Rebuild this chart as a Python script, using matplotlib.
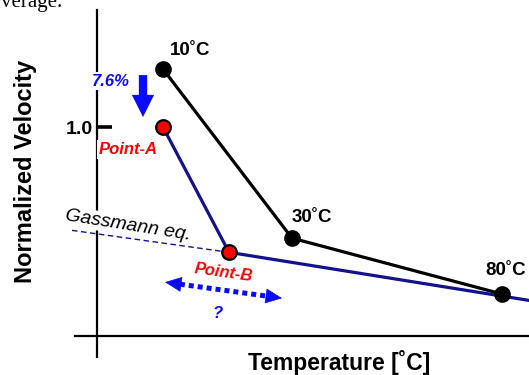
import numpy as np
import matplotlib
matplotlib.use("Agg")
import matplotlib.pyplot as plt

plt.rcParams['font.family'] = ['Liberation Sans', 'DejaVu Sans']

# --------- data (schematic units) ---------
# measured velocities, normalized to Point-A
MEAS_LABELS = ["10˚C", "30˚C", "80˚C"]
MEAS_X = [0.66, 1.95, 4.05]
MEAS_V = [1.082, 0.843, 0.764]

# corrected path: Point-A -> Point-B -> right edge
MODEL_LABELS = ["Point-A", "Point-B"]
MODEL_X = [0.66, 1.32, 4.32]
MODEL_V = [1.0, 0.823, 0.755]

# Gassmann extrapolation from Point-B
GASS_X = [-0.25, 1.32]
GASS_V = [0.854, 0.823]

Y_TICKS = [1.0]
Y_TICK_LABELS = ["1.0"]
DROP_PCT = 7.6

NAVY = "#12128c"
BRIGHT = "#0a0aff"
RED = "#ff0000"

fig = plt.figure(figsize=(5.29, 3.75), dpi=100)
ax = fig.add_axes([60 / 529, 18 / 375, 469 / 529, 347 / 375])
ax.set_xlim(-0.37, 4.32)
ax.set_ylim(0.675, 1.1655)

# axes lines
for s in ["top", "right"]:
    ax.spines[s].set_visible(False)
ax.spines["left"].set_position(("data", 0))
ax.spines["bottom"].set_position(("data", 0.704))
ax.spines["bottom"].set_bounds(-0.22, 4.32)
for s in ["left", "bottom"]:
    ax.spines[s].set_linewidth(1.6)

ax.set_xticks([])
ax.set_yticks(Y_TICKS)
ax.set_yticklabels(Y_TICK_LABELS)
ax.tick_params(axis="y", direction="in", length=11, width=2.6, pad=3, labelsize=14)
for lbl in ax.get_yticklabels():
    lbl.set_fontweight("bold")

# lines
ax.plot(GASS_X, GASS_V, ls=(0, (4, 2.5)), lw=1.0, color=NAVY, zorder=3.5)
ax.plot(MODEL_X, MODEL_V, color=NAVY, lw=2.3, zorder=4)
ax.plot(MEAS_X, MEAS_V, color="black", lw=2.3, marker="o", ms=11,
        mfc="black", mec="black", zorder=5)
ax.plot(MODEL_X[:2], MODEL_V[:2], ls="none", marker="o", ms=10.5,
        mfc=RED, mec="black", mew=1.6, zorder=6)

# temperature labels
meas_off = [(19.4, 13.7), (14.4, 15.1), (2.9, 17.3)]
for lab, x, v, off in zip(MEAS_LABELS, MEAS_X, MEAS_V, meas_off):
    ax.annotate(lab, xy=(x, v), xytext=off, textcoords="offset points",
                ha="center", va="center", fontsize=13.5, fontweight="bold")

# Point-A / Point-B labels
ax.annotate(MODEL_LABELS[0], xy=(MODEL_X[0], MODEL_V[0]), xytext=(-25.2, -15.8),
            textcoords="offset points", ha="center", va="center", fontsize=12,
            fontweight="bold", style="italic", color=RED,
            bbox=dict(fc="white", ec="none", pad=1.5))
ax.annotate(MODEL_LABELS[1], xy=(MODEL_X[1], MODEL_V[1]), xytext=(-3.6, -14.4),
            textcoords="offset points", ha="center", va="center", fontsize=12,
            fontweight="bold", style="italic", color=RED, rotation=-8,
            rotation_mode="anchor")

# Gassmann
ax.text(0.31, 0.861, "Gassmann eq.", ha="center", va="center", fontsize=14,
        style="italic", rotation=-9, rotation_mode="anchor", zorder=3,
        bbox=dict(fc="white", ec="none", pad=1))

# 7.6% drop arrow
ax.annotate("", xy=(0.46, 1.0141), xytext=(0.46, 1.0735),
            arrowprops=dict(arrowstyle="simple,head_length=1.6,head_width=1.6,tail_width=0.6",
                            fc=BRIGHT, ec="none", shrinkA=0, shrinkB=0,
                            mutation_scale=10))
ax.text(0.14, 1.065, f"{DROP_PCT}%", ha="center", va="center", fontsize=12,
        fontweight="bold", style="italic", color=BRIGHT, zorder=3,
        bbox=dict(fc="white", ec="none", pad=1))

# dotted double arrow with "?"
L = np.array([0.68, 0.7808])
R = np.array([1.85, 0.7581])
Lb = L + 0.127 * (R - L)
Rb = R - 0.127 * (R - L)
ax.plot([Lb[0], Rb[0]], [Lb[1], Rb[1]], color=BRIGHT, lw=3.6,
        ls=(0, (1, 0.8)), dash_capstyle="butt")
for tip, base in [(L, Lb), (R, Rb)]:
    ax.annotate("", xy=tuple(tip), xytext=tuple(base),
                arrowprops=dict(arrowstyle="-|>,head_length=1.1,head_width=0.5",
                                color=BRIGHT, lw=0.5, shrinkA=0, shrinkB=0,
                                mutation_scale=10))
ax.text(1.21, 0.737, "?", ha="center", va="center", fontsize=12,
        fontweight="bold", style="italic", color=BRIGHT)

# axis titles
fig.text(26 / 529, 1 - 171 / 375, "Normalized Velocity", rotation=90,
         ha="center", va="center", fontsize=17, fontweight="bold")
fig.text(339 / 529, 5 / 375, "Temperature [˚C]", ha="center", va="baseline",
         fontsize=16.5, fontweight="bold")

# bit of the surrounding page text
fig.text(1 / 529, 1 - 7 / 375, "verage.", ha="left", va="baseline",
         fontsize=15, family="Liberation Serif")

fig.savefig("out.png", dpi=100)
